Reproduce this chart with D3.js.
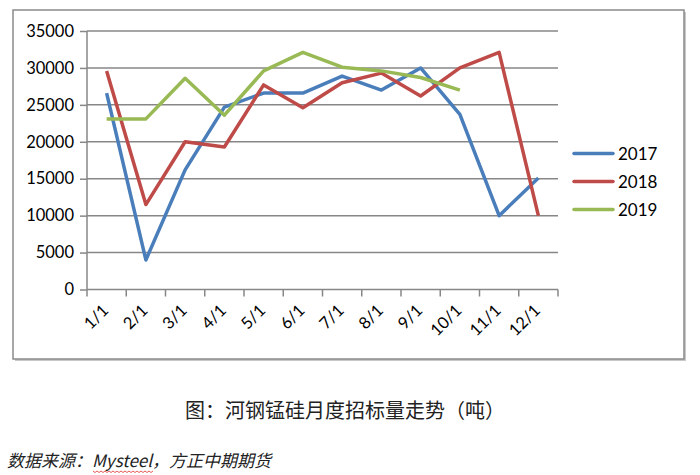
<!DOCTYPE html>
<html><head><meta charset="utf-8">
<script src="https://cdn.jsdelivr.net/npm/d3@7"></script>
<style>body{margin:0;background:#fff;}svg{display:block;}</style>
</head><body>
<script>
const categories = ["1/1","2/1","3/1","4/1","5/1","6/1","7/1","8/1","9/1","10/1","11/1","12/1"];
const seriesNames = ["2017","2018","2019"];
const v2017 = [26600,4000,16200,24700,26600,26600,28900,27000,30000,23700,10000,15100];
const v2018 = [29600,11500,20000,19300,27700,24600,28000,29300,26200,30000,32100,10000];
const v2019 = [23100,23100,28600,23600,29600,32100,30100,29600,28700,27000];
const yTicks = [0,5000,10000,15000,20000,25000,30000,35000];
const colors = ["#4a7ebb","#be4b48","#98b954"];
const caption = "图：河钢锰硅月度招标量走势（吨）";
const source = "数据来源：Mysteel，方正中期期货";

const W=700,H=475;
const svg=d3.select("body").append("svg").attr("width",W).attr("height",H);

// outer frame with shadow
svg.append("rect").attr("x",15).attr("y",12).attr("width",671).attr("height",349).attr("fill","#c8c8c8");
svg.append("rect").attr("x",13).attr("y",10).attr("width",671).attr("height",349).attr("fill","#fff").attr("stroke","#8a8a8a").attr("stroke-width",1.5);

const x=d3.scaleBand().domain(categories).range([87,558]);
const y=d3.scaleLinear().domain([0,35000]).range([289.5,31]);
const font="Lato, 'Liberation Sans', sans-serif";

// gridlines
svg.append("g").selectAll("line").data(yTicks.filter(d=>d>0)).join("line")
  .attr("x1",87).attr("x2",558).attr("y1",d=>y(d)).attr("y2",d=>y(d))
  .attr("stroke","#878787").attr("stroke-width",1.5);

// y axis
const ya=svg.append("g").attr("transform","translate(87,0)")
  .call(d3.axisLeft(y).tickValues(yTicks).tickSize(7).tickPadding(6).tickFormat(d3.format("d")));
ya.select(".domain").attr("stroke","#878787").attr("stroke-width",1.5).attr("d","M0,31V289.5");
ya.selectAll(".tick line").attr("stroke","#878787").attr("stroke-width",1.5);
ya.selectAll("text").attr("font-family",font).attr("font-size",16.5).attr("fill","#000");

// x axis
svg.append("line").attr("x1",87).attr("x2",558).attr("y1",y(0)).attr("y2",y(0)).attr("stroke","#878787").attr("stroke-width",1.5);
const bounds=categories.map(c=>x(c)).concat([558]);
svg.append("g").selectAll("line").data(bounds).join("line")
  .attr("x1",d=>d).attr("x2",d=>d).attr("y1",y(0)).attr("y2",y(0)+7)
  .attr("stroke","#878787").attr("stroke-width",1.5);
svg.append("g").selectAll("text").data(categories).join("text")
  .attr("transform",d=>`translate(${x(d)+x.bandwidth()/2+3},${y(0)+22}) rotate(-45)`)
  .attr("text-anchor","end").attr("font-family",font).attr("font-size",16.5)
  .text(d=>d);

// lines
const allSeries=[v2017,v2018,v2019];
const line=d3.line().x((d,i)=>x(categories[i])+x.bandwidth()/2).y(d=>y(d));
allSeries.forEach((s,k)=>{
  svg.append("path").datum(s).attr("d",line).attr("fill","none")
    .attr("stroke",colors[k]).attr("stroke-width",3.5).attr("stroke-linejoin","round");
});

// legend
const leg=svg.append("g");
seriesNames.forEach((n,k)=>{
  const ly=[153.5,181.5,209.5][k];
  leg.append("line").attr("x1",574).attr("x2",613).attr("y1",ly).attr("y2",ly)
    .attr("stroke",colors[k]).attr("stroke-width",3.5).attr("stroke-linecap","round");
  leg.append("text").attr("x",618).attr("y",ly+6).attr("font-family",font).attr("font-size",17).text(n);
});

// caption & source
svg.append("text").attr("x",345).attr("y",418).attr("text-anchor","middle")
  .attr("font-family","'Noto Sans CJK SC', sans-serif").attr("font-size",20).attr("fill","#222").text(caption);
svg.append("text").attr("x",7).attr("y",467)
  .attr("font-family","'Noto Sans CJK SC', sans-serif").attr("font-size",17).attr("font-style","italic").attr("fill","#222").text(source);
// wavy underline under Mysteel
const wav=d3.range(0,62,2).map((d,i)=>[93+d,471+(i%2?1.5:0)]);
svg.append("path").attr("d",d3.line()(wav)).attr("fill","none").attr("stroke","#e03030").attr("stroke-width",0.8);
</script>
</body></html>
